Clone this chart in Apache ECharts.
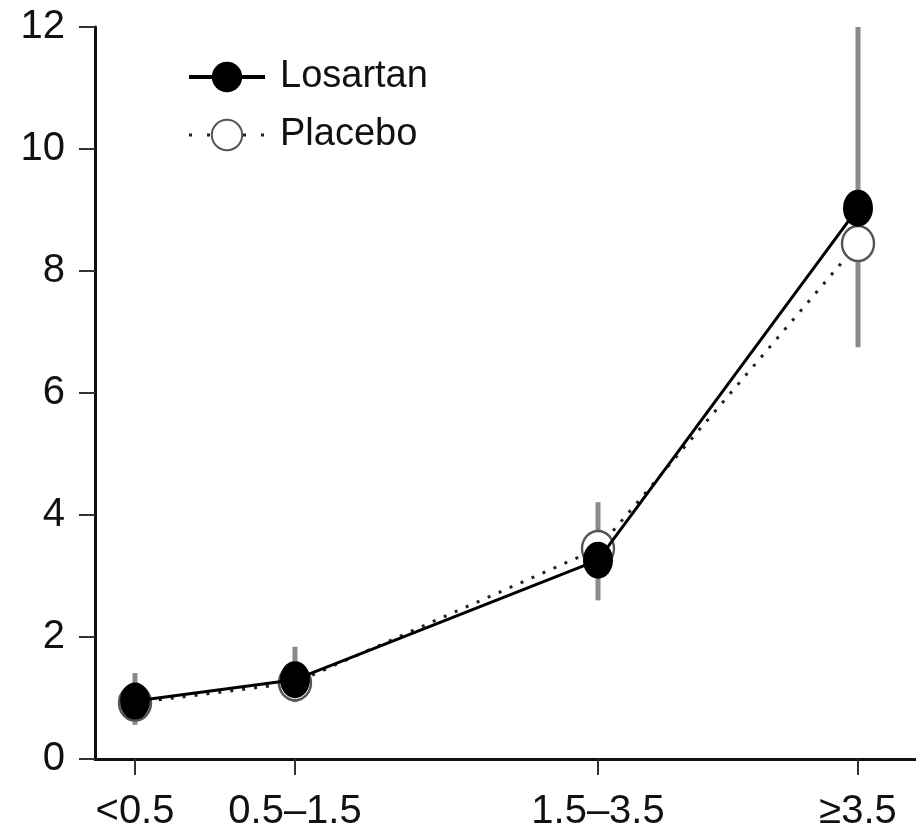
<!DOCTYPE html>
<html>
<head>
<meta charset="utf-8">
<script src="https://cdn.jsdelivr.net/npm/echarts@6/dist/echarts.min.js"></script>
<style>
  html, body { margin: 0; padding: 0; background: #fff; }
  #chart { width: 916px; height: 833px; }
</style>
</head>
<body>
<div id="chart"></div>
<script>
// Group labels and where each group sits along the horizontal axis
const groupLabels = ['<0.5', '0.5\u20131.5', '1.5\u20133.5', '\u22653.5'];
const groupPos = [0.4, 2.0, 5.03, 7.63];

// Event rate per group
const losartan = [0.95, 1.3, 3.26, 9.03];
const placebo = [0.92, 1.25, 3.45, 8.45];

// Confidence interval bounds per group
const ciLow = [0.56, 0.93, 2.6, 6.75];
const ciHigh = [1.41, 1.84, 4.21, 12.0];

// Y axis ticks
const yTicks = [0, 2, 4, 6, 8, 10, 12];

const FONT = '"Liberation Sans", Arial, Helvetica, sans-serif';

const losartanData = groupPos.map((x, i) => [x, losartan[i]]);
const placeboData = groupPos.map((x, i) => [x, placebo[i]]);
const ciData = groupPos.map((x, i) => [x, ciLow[i], ciHigh[i]]);

const chart = echarts.init(document.getElementById('chart'), null, { renderer: 'canvas' });

chart.setOption({
  animation: false,
  backgroundColor: '#fff',
  grid: { left: 95, right: 0, top: 27, bottom: 74, containLabel: false },
  legend: {
    left: 182,
    top: 53,
    orient: 'vertical',
    itemWidth: 76,
    itemHeight: 38,
    itemGap: 20,
    textStyle: { fontFamily: FONT, fontSize: 38, color: '#111', padding: [0, 0, 0, 10] },
    data: [
      { name: 'Losartan', lineStyle: { width: 4, color: '#000' } },
      { name: 'Placebo', lineStyle: { width: 3, color: '#222', type: [3, 15] } }
    ]
  },
  xAxis: {
    type: 'value',
    min: 0,
    max: 8.21,
    axisLine: { show: true, lineStyle: { color: '#111', width: 3 } },
    axisTick: {
      show: true, length: 16, inside: false,
      customValues: groupPos,
      lineStyle: { color: '#333', width: 2 }
    },
    axisLabel: {
      show: true, margin: 33,
      customValues: groupPos,
      formatter: v => {
        const i = groupPos.findIndex(p => Math.abs(p - v) < 1e-6);
        return i >= 0 ? groupLabels[i] : '';
      },
      fontFamily: FONT, fontSize: 40, color: '#111'
    },
    splitLine: { show: false }
  },
  yAxis: {
    type: 'value',
    min: yTicks[0],
    max: yTicks[yTicks.length - 1],
    interval: 2,
    axisLine: { show: true, lineStyle: { color: '#111', width: 3 } },
    axisTick: { show: true, length: 16, lineStyle: { color: '#333', width: 2 } },
    axisLabel: { margin: 30, fontFamily: FONT, fontSize: 40, color: '#111' },
    splitLine: { show: false }
  },
  series: [
    {
      name: 'CI',
      type: 'custom',
      z: 1,
      silent: true,
      data: ciData,
      renderItem: (params, api) => {
        const top = api.coord([api.value(0), api.value(2)]);
        const bot = api.coord([api.value(0), api.value(1)]);
        return {
          type: 'line',
          shape: { x1: top[0], y1: top[1], x2: bot[0], y2: bot[1] },
          style: { stroke: '#8a8a8a', lineWidth: 5 }
        };
      }
    },
    {
      name: 'Placebo',
      type: 'line',
      z: 2,
      data: placeboData,
      symbol: 'circle',
      symbolSize: [32, 35],
      lineStyle: { color: '#222', width: 3, type: [3, 9] },
      itemStyle: { color: '#fff', borderColor: '#555', borderWidth: 2.5 }
    },
    {
      name: 'Losartan',
      type: 'line',
      z: 3,
      data: losartanData,
      symbol: 'circle',
      symbolSize: [30, 37],
      lineStyle: { color: '#000', width: 3 },
      itemStyle: { color: '#000', borderColor: '#000', borderWidth: 0 }
    }
  ]
});
</script>
</body>
</html>
